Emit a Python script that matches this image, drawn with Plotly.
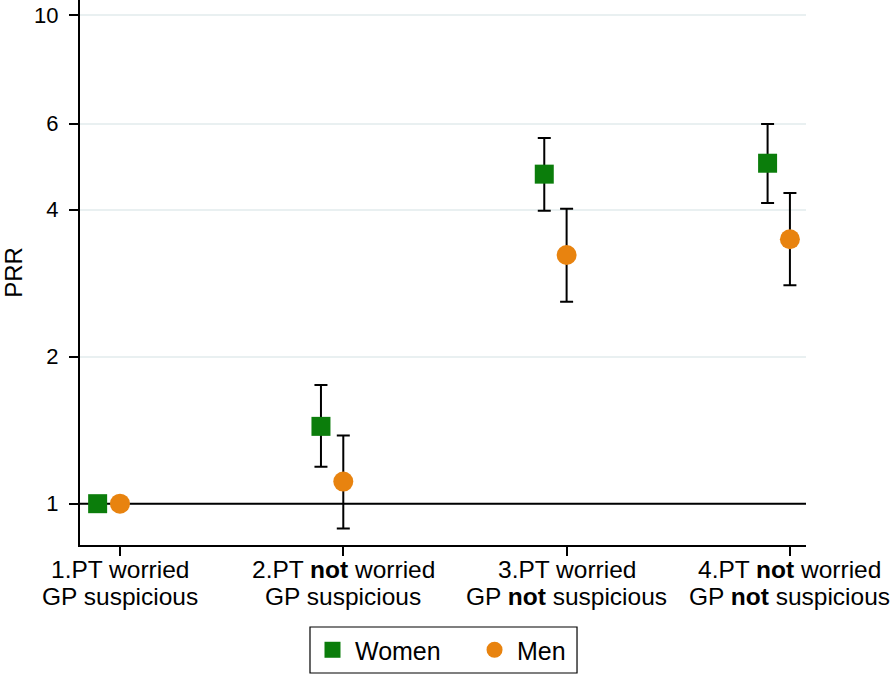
import plotly.graph_objects as go

categories = ["1.PT worried<br>GP suspicious",
              "2.PT <b>not</b> worried<br>GP suspicious",
              "3.PT worried<br>GP <b>not</b> suspicious",
              "4.PT <b>not</b> worried<br>GP <b>not</b> suspicious"]
cat_pos = [1, 2, 3, 4]

women_prr = [1.0, 1.44, 4.73, 4.98]
women_lo = [None, 1.19, 3.98, 4.13]
women_hi = [None, 1.75, 5.61, 5.99]

men_prr = [1.0, 1.11, 3.23, 3.48]
men_lo = [None, 0.89, 2.59, 2.80]
men_hi = [None, 1.38, 4.02, 4.33]

y_ticks = [1, 2, 4, 6, 10]
ref_value = 1
x_range = [0.821, 4.072]

GREEN = "#0b7d0b"
ORANGE = "#e8830f"
FONT = "Liberation Sans, Arial, Helvetica, sans-serif"

def errs(vals, lo, hi):
    plus = [(h - v) if h is not None else 0 for v, h in zip(vals, hi)]
    minus = [(v - l) if l is not None else 0 for v, l in zip(vals, lo)]
    return plus, minus

wp, wm = errs(women_prr, women_lo, women_hi)
mp, mm = errs(men_prr, men_lo, men_hi)

fig = go.Figure()
# reference line at PRR = 1, drawn below the markers
fig.add_trace(go.Scatter(
    x=x_range, y=[ref_value, ref_value], mode="lines", showlegend=False,
    hoverinfo="skip", line=dict(color="black", width=2), cliponaxis=False,
))
fig.add_trace(go.Scatter(
    x=[c - 0.1 for c in cat_pos], y=women_prr, mode="markers", name="Women",
    legend="legend",
    marker=dict(symbol="square", size=19, color=GREEN),
    error_y=dict(type="data", symmetric=False, array=wp, arrayminus=wm,
                 color="black", thickness=2, width=6.5),
))
fig.add_trace(go.Scatter(
    x=cat_pos, y=men_prr, mode="markers", name="Men",
    legend="legend2",
    marker=dict(symbol="circle", size=20, color=ORANGE),
    error_y=dict(type="data", symmetric=False, array=mp, arrayminus=mm,
                 color="black", thickness=2, width=6.5),
))

# legend frame
fig.add_shape(type="rect", xref="paper", yref="paper",
              x0=0.3168, x1=0.6846, y0=-0.2349, y1=-0.1505,
              line=dict(color="black", width=1.2), fillcolor="rgba(0,0,0,0)")

# two-line category labels with tight line spacing
for pos, lab in zip(cat_pos, categories):
    for i, line in enumerate(lab.split("<br>")):
        fig.add_annotation(x=pos, xref="x", y=0, yref="paper", text=line,
                           showarrow=False, xanchor="center", yanchor="middle",
                           yshift=-24 - 27 * i,
                           font=dict(size=24.5, family=FONT, color="black"))

leg_common = dict(orientation="h", y=-0.1505, yanchor="top", xanchor="left",
                  borderwidth=0, bgcolor="rgba(0,0,0,0)",
                  font=dict(size=25, family=FONT, color="black"), itemwidth=35)

fig.update_layout(
    width=894, height=676,
    margin=dict(l=80, r=88, t=0, b=131, autoexpand=False),
    plot_bgcolor="white", paper_bgcolor="white",
    font=dict(family=FONT, size=24, color="black"),
    showlegend=True,
    legend=dict(x=0.3168, **leg_common),
    legend2=dict(x=0.54, **leg_common),
    xaxis=dict(range=x_range, tickmode="array", tickvals=cat_pos,
               showticklabels=False, showgrid=False, zeroline=False,
               showline=True, linecolor="black", linewidth=2,
               ticks="outside", ticklen=9, tickwidth=2, tickcolor="black"),
    yaxis=dict(type="log", range=[-0.0846, 1.0315], tickmode="array",
               tickvals=y_ticks, ticktext=[str(t) for t in y_ticks],
               showgrid=True, gridcolor="#e9f0f1", gridwidth=1.5,
               zeroline=False, showline=True, linecolor="black", linewidth=2,
               ticks="outside", ticklen=9, tickwidth=2, tickcolor="black",
               ticklabelstandoff=6, automargin=False,
               tickfont=dict(size=22, family=FONT),
               title=dict(text="PRR", font=dict(size=24, family=FONT), standoff=22)),
)

fig.write_html("out.html", config={"displayModeBar": False},
               post_script="document.body.style.margin='0';document.body.style.overflow='hidden';")
